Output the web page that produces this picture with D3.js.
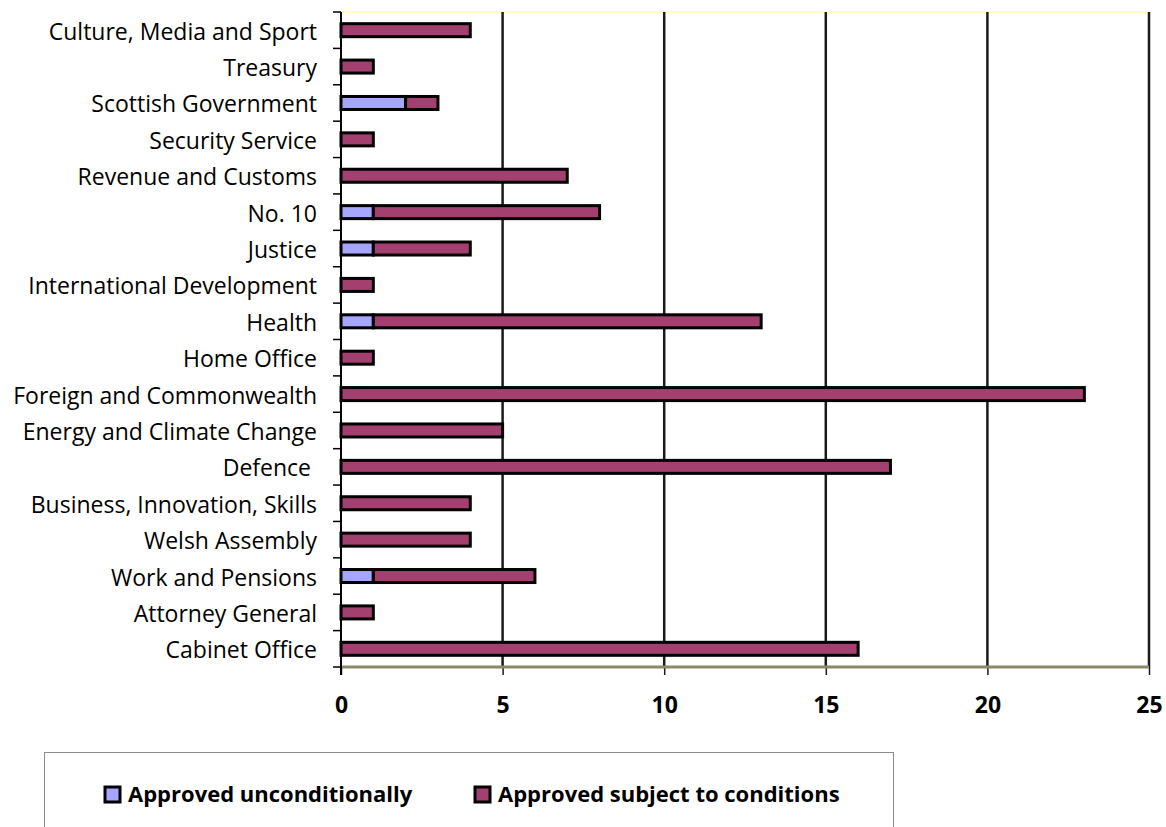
<!DOCTYPE html>
<html>
<head>
<meta charset="utf-8">
<script src="https://cdn.jsdelivr.net/npm/d3@7"></script>
<style>
  body { margin: 0; background: #fff; }
  svg { display: block; font-family: "Open Sans", sans-serif; }
</style>
</head>
<body>
<script>
var departments = [
  "Culture, Media and Sport", "Treasury", "Scottish Government", "Security Service",
  "Revenue and Customs", "No. 10", "Justice", "International Development", "Health",
  "Home Office", "Foreign and Commonwealth", "Energy and Climate Change", "Defence ",
  "Business, Innovation, Skills", "Welsh Assembly", "Work and Pensions",
  "Attorney General", "Cabinet Office"
];
var unconditional = [0, 0, 2, 0, 0, 1, 1, 0, 1, 0, 0, 0, 0, 0, 0, 1, 0, 0];
var conditional   = [4, 1, 1, 1, 7, 7, 3, 1, 12, 1, 23, 5, 17, 4, 4, 5, 1, 16];
var seriesNames = ["Approved unconditionally", "Approved subject to conditions"];
var seriesColors = ["#a6a6ff", "#a3406f"];
var xTicks = [0, 5, 10, 15, 20, 25];

var chartW = 1166, chartH = 827;
var plotLeft = 341, plotRight = 1149, plotTop = 12, plotBottom = 667;

var svg = d3.select("body").append("svg")
    .attr("width", chartW)
    .attr("height", chartH);

var x = d3.scaleLinear().domain([0, 25]).range([plotLeft, plotRight]);
var y = d3.scaleBand().domain(departments).range([plotTop, plotBottom]).padding(0);
var barH = 13;

// stacked rows built from the two series
var rows = departments.map(function(d, i) {
  return { name: d, segs: [
    { x0: 0, x1: unconditional[i], s: 0 },
    { x0: unconditional[i], x1: unconditional[i] + conditional[i], s: 1 }
  ]};
});

// top border (pale yellow)
svg.append("line")
    .attr("x1", plotLeft).attr("x2", plotRight)
    .attr("y1", plotTop).attr("y2", plotTop)
    .attr("stroke", "#ffffc4").attr("stroke-width", 2);

// vertical grid lines
svg.append("g").selectAll("line")
  .data(xTicks.filter(function(t) { return t > 0; }))
  .enter().append("line")
    .attr("x1", d => x(d)).attr("x2", d => x(d))
    .attr("y1", plotTop).attr("y2", plotBottom)
    .attr("stroke", "#1a1a1a").attr("stroke-width", 2.5);

// x axis
var xAxis = svg.append("g")
    .attr("transform", "translate(0," + plotBottom + ")")
    .call(d3.axisBottom(x).tickValues(xTicks).tickSize(8).tickPadding(22));
xAxis.select(".domain").remove();
xAxis.selectAll(".tick line").attr("stroke", "#1a1a1a").attr("stroke-width", 1.5);
xAxis.selectAll("text")
    .attr("font-size", 23).attr("font-weight", "bold")
    .attr("font-family", "Open Sans").attr("fill", "#000");

svg.append("line")
    .attr("x1", plotLeft).attr("x2", plotRight)
    .attr("y1", plotBottom).attr("y2", plotBottom)
    .attr("stroke", "#8a8a68").attr("stroke-width", 3);

// left axis line + band boundary ticks
svg.append("line")
    .attr("x1", plotLeft).attr("x2", plotLeft)
    .attr("y1", plotTop).attr("y2", plotBottom + 8)
    .attr("stroke", "#000").attr("stroke-width", 2);

var bounds = departments.map(d => y(d)).concat([plotBottom]);
svg.append("g").selectAll("line")
  .data(bounds)
  .enter().append("line")
    .attr("x1", plotLeft - 8).attr("x2", plotLeft)
    .attr("y1", d => d).attr("y2", d => d)
    .attr("stroke", "#000").attr("stroke-width", 1.5);

// category labels
svg.append("g").selectAll("text")
  .data(departments)
  .enter().append("text")
    .attr("x", 317)
    .attr("y", d => y(d) + y.bandwidth() / 2 + 9.5)
    .attr("text-anchor", "end")
    .attr("font-size", 23)
    .style("white-space", "pre")
    .text(d => d);

// bars
var rowG = svg.append("g").selectAll("g")
  .data(rows)
  .enter().append("g")
    .attr("transform", d => "translate(0," + (y(d.name) + (y.bandwidth() - barH) / 2) + ")");

rowG.selectAll("rect")
  .data(d => d.segs.filter(s => s.x1 > s.x0))
  .enter().append("rect")
    .attr("x", d => x(d.x0))
    .attr("width", d => x(d.x1) - x(d.x0))
    .attr("height", barH)
    .attr("fill", d => seriesColors[d.s])
    .attr("stroke", "#000")
    .attr("stroke-width", 3);

// legend
svg.append("rect")
    .attr("x", 44.5).attr("y", 752.5)
    .attr("width", 849).attr("height", 100)
    .attr("fill", "none")
    .attr("stroke", "#8c8c8c").attr("stroke-width", 1);

var legendX = [105, 475];
var legend = svg.append("g").selectAll("g")
  .data(seriesNames)
  .enter().append("g")
    .attr("transform", (d, i) => "translate(" + legendX[i] + ",787)");

legend.append("rect")
    .attr("width", 15).attr("height", 15)
    .attr("fill", (d, i) => seriesColors[i])
    .attr("stroke", "#000").attr("stroke-width", 3);

legend.append("text")
    .attr("x", 23).attr("y", 15)
    .attr("font-size", 22).attr("font-weight", "bold")
    .text(d => d);
</script>
</body>
</html>
